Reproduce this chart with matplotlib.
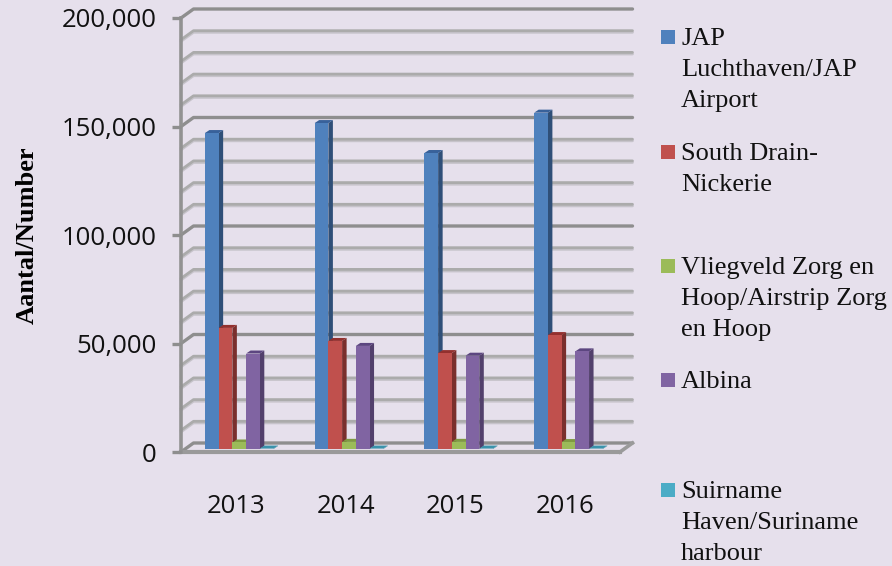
import numpy as np
import matplotlib
matplotlib.use('Agg')
import matplotlib.pyplot as plt
from matplotlib.patches import Rectangle

years = ['2013', '2014', '2015', '2016']
jap = [145600, 150200, 136400, 155000]
south_drain = [55800, 49800, 44200, 52500]
zorg_en_hoop = [3000, 3300, 3300, 3200]
albina = [44000, 47500, 43000, 45000]
haven = [200, 200, 200, 200]
series = [jap, south_drain, zorg_en_hoop, albina, haven]
legend_labels = ['JAP\nLuchthaven/JAP\nAirport', 'South Drain-\nNickerie',
                 'Vliegveld Zorg en\nHoop/Airstrip Zorg\nen Hoop', 'Albina',
                 'Suirname\nHaven/Suriname\nharbour']
legend_y = [37, 152, 266, 380, 490]
colors = ['#4F81BD', '#C0504D', '#9BBB59', '#8064A2', '#4BACC6']
side_colors = ['#2F4F78', '#7A2F2D', '#64792F', '#52406C', '#2F7C90']
top_colors = ['#38619A', '#93302E', '#7F9A42', '#5C4680', '#3A93AB']
bg = '#E6E0EC'
W, H = 892, 566

fig = plt.figure(figsize=(W / 100, H / 100), dpi=100, facecolor=bg)
ax = fig.add_axes([181 / W, 1 - 452 / H, 439 / W, 434 / H])
ax.set_facecolor('none')
ax.set_xlim(-0.5, 3.5)
ax.set_ylim(0, 200000)
for s in ax.spines.values():
    s.set_visible(False)

# pixel sizes turned into data units
px_x = 4 / 439
px_y = 200000 / 434
wall_dx, wall_dy = 12.5 * px_x, 9 * px_y
bar_dx, bar_dy = 4.5 * px_x, 3 * px_y

left, right = -0.5, 3.5
# back wall lines and their slanted parts on the side wall
for v in range(0, 200001, 10000):
    major = v % 50000 == 0
    col = '#8E8E8E' if major else '#ABABAB'
    lw = 2.4 if major else 2.0
    xs = [left, left + wall_dx, right + wall_dx]
    ys = [v, v + wall_dy, v + wall_dy]
    if not major:
        ax.plot(xs, [y - 1.6 * px_y for y in ys], color='#C6C3CA', lw=2, clip_on=False,
                solid_capstyle='round', zorder=1)
    ax.plot(xs, ys, color=col, lw=lw, clip_on=False, solid_capstyle='round', zorder=1.1)

# floor
ax.plot([right, right + wall_dx], [0, wall_dy], color='#9A9A9A', lw=2.6, clip_on=False, zorder=1.2)
ax.plot([left, right], [0, 0], color='#9A9A9A', lw=3, clip_on=False, zorder=1.2)
ax.plot([left, left], [0, 200000], color='#929292', lw=2.6, clip_on=False, zorder=1.2)

# bars, left to right so each face covers the side of the previous one
width = 0.125
base = bar_dy
for k, vals in enumerate(series):
    for i, v in enumerate(vals):
        x0 = i - 0.282 + k * width
        x1 = x0 + width
        z = 2 + k * 0.1
        ax.fill([x1, x1 + bar_dx, x1 + bar_dx, x1],
                [base, base + bar_dy, base + v + bar_dy, base + v],
                color=side_colors[k], lw=0, clip_on=False, zorder=z)
        ax.fill([x0, x0 + bar_dx, x1 + bar_dx, x1],
                [base + v, base + v + bar_dy, base + v + bar_dy, base + v],
                color=top_colors[k], lw=0, clip_on=False, zorder=z)
    ax.bar(np.arange(4) - 0.282 + k * width, vals, width=width, align='edge', bottom=base,
           color=colors[k], lw=0, clip_on=False, zorder=2.05 + k * 0.1)

ax.set_xticks(range(4))
ax.set_xticklabels(years, fontsize=18.5, family='Open Sans', color='#111111')
ax.tick_params(axis='x', length=0, pad=30)
ax.set_yticks(range(0, 200001, 50000))
ax.set_yticklabels([f'{v:,}' for v in range(0, 200001, 50000)], fontsize=18.5,
                   family='Open Sans', color='#111111')
ax.tick_params(axis='y', length=6.5, width=2.4, color='#8E8E8E', pad=11)

fig.text(27 / W, 1 - 235 / H, 'Aantal/Number', rotation=90, ha='center', va='center',
         family='Liberation Serif', fontweight='bold', fontsize=19, color='black')

for lab, c, y in zip(legend_labels, colors, legend_y):
    fig.add_artist(Rectangle((661 / W, 1 - (y + 7) / H), 14 / W, 14 / H, color=c, lw=0,
                             transform=fig.transFigure))
    fig.text(681 / W, 1 - (y - 9) / H, lab, ha='left', va='top', family='Liberation Serif',
             fontsize=19, linespacing=1.53, color='#111111')

fig.savefig('out.png', dpi=100, facecolor=bg)
